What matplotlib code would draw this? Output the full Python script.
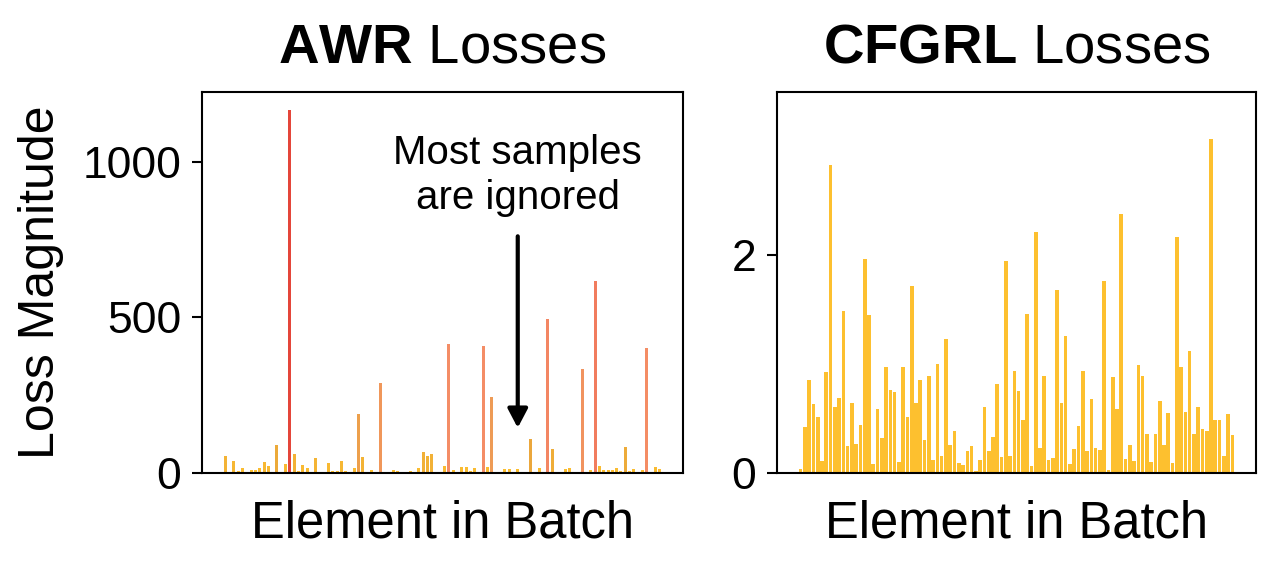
"""AWR vs CFGRL per-sample loss magnitudes in one batch."""

import numpy as np
import matplotlib
matplotlib.use("Agg")
import matplotlib.pyplot as plt
from matplotlib.colors import LinearSegmentedColormap, Normalize

plt.rcParams["font.family"] = ["Liberation Sans", "DejaVu Sans"]
plt.rcParams["mathtext.fontset"] = "custom"
plt.rcParams["mathtext.rm"] = "Liberation Sans"
plt.rcParams["mathtext.bf"] = "Liberation Sans:bold"

# per-element losses (batch of 102)
awr_losses = [
    53, 3, 38, 5, 17, 1, 9, 9, 15, 34,
    24, 1, 89, 4, 29, 1165, 62, 5, 25, 17,
    1, 49, 1, 1, 31, 5, 5, 40, 8, 1,
    17, 191, 51, 1, 9, 1, 289, 1, 1, 10,
    5, 1, 1, 5, 1, 17, 67, 56, 61, 1,
    1, 22, 413, 10, 1, 18, 18, 5, 16, 1,
    408, 18, 245, 1, 1, 13, 13, 1, 13, 4,
    1, 108, 1, 17, 4, 495, 77, 2, 1, 13,
    16, 1, 1, 333, 2, 9, 616, 22, 11, 11,
    11, 16, 8, 85, 5, 13, 1, 9, 401, 1,
    20, 14,
]
cfgrl_losses = [
    0.04, 0.42, 0.85, 0.63, 0.51, 0.11, 0.93, 2.83, 0.61, 0.69,
    1.49, 0.25, 0.64, 0.27, 0.44, 1.97, 1.45, 0.08, 0.59, 0.32,
    0.97, 0.76, 0.74, 0.10, 0.97, 0.51, 1.72, 0.64, 0.85, 0.30,
    0.89, 0.12, 1.00, 0.16, 1.23, 0.26, 0.39, 0.09, 0.07, 0.20,
    0.25, 0.02, 0.12, 0.61, 0.20, 0.33, 0.82, 0.15, 1.95, 0.16,
    0.94, 0.75, 0.49, 1.46, 0.06, 2.21, 0.23, 0.89, 0.12, 0.14,
    1.68, 0.64, 1.26, 0.08, 0.22, 0.43, 0.94, 0.20, 0.68, 0.23,
    0.21, 1.76, 0.03, 0.88, 0.59, 2.38, 0.13, 0.26, 0.11, 0.99,
    0.89, 0.36, 0.10, 0.36, 0.66, 0.26, 0.55, 0.09, 2.17, 0.97,
    0.56, 1.12, 0.36, 0.61, 0.40, 0.39, 3.07, 0.49, 0.49, 0.16,
    0.54, 0.35,
]
awr_yticks = [0, 500, 1000]
cfgrl_yticks = [0, 2]

GOLD = "#FDC02F"
loss_cmap = LinearSegmentedColormap.from_list(
    "loss",
    [(0.0, GOLD), (0.08, "#EBA83A"), (0.2, "#EE9C55"),
     (0.35, "#F48D66"), (0.55, "#F17A5D"), (1.0, "#E4463A")],
)

fig = plt.figure(figsize=(12.8, 5.73), dpi=100)
ax_awr = fig.add_axes([202 / 1280, 100 / 573, 481 / 1280, 381 / 573])
ax_cfg = fig.add_axes([777 / 1280, 100 / 573, 479 / 1280, 381 / 573])


def _style(ax, title_bold, yticks):
    ax.set_title(rf"$\bf{{{title_bold}}}$ Losses", fontsize=40.5, pad=21)
    ax.set_xlabel("Element in Batch", fontsize=36.5, labelpad=19)
    ax.set_xticks([])
    ax.set_yticks(yticks)
    ax.tick_params(axis="y", labelsize=32, length=7, width=1.5, pad=8)
    for spine in ax.spines.values():
        spine.set_linewidth(1.5)


awr = np.array(awr_losses, dtype=float)
idx = np.arange(awr.size)
norm = Normalize(vmin=0, vmax=awr.max())
ax_awr.bar(idx, awr, width=0.7, color=loss_cmap(norm(awr)))
_style(ax_awr, "AWR", awr_yticks)
ax_awr.set_ylabel("Loss Magnitude", fontsize=36, labelpad=13)

ax_awr.annotate(
    "", xy=(68, 145), xytext=(68, 760),
    arrowprops=dict(arrowstyle="-|>,head_length=0.38,head_width=0.2",
                    lw=3, color="black", mutation_scale=30, shrinkA=0, shrinkB=0),
)
ax_awr.text(68, 955, "Most samples\nare ignored", ha="center", va="center",
            fontsize=29, linespacing=1.22)

cfg = np.array(cfgrl_losses)
ax_cfg.bar(np.arange(cfg.size), cfg, width=0.85, color=GOLD)
ax_cfg.set_ylim(0, 3.5)
_style(ax_cfg, "CFGRL", cfgrl_yticks)

fig.savefig("out.png", dpi=100)
